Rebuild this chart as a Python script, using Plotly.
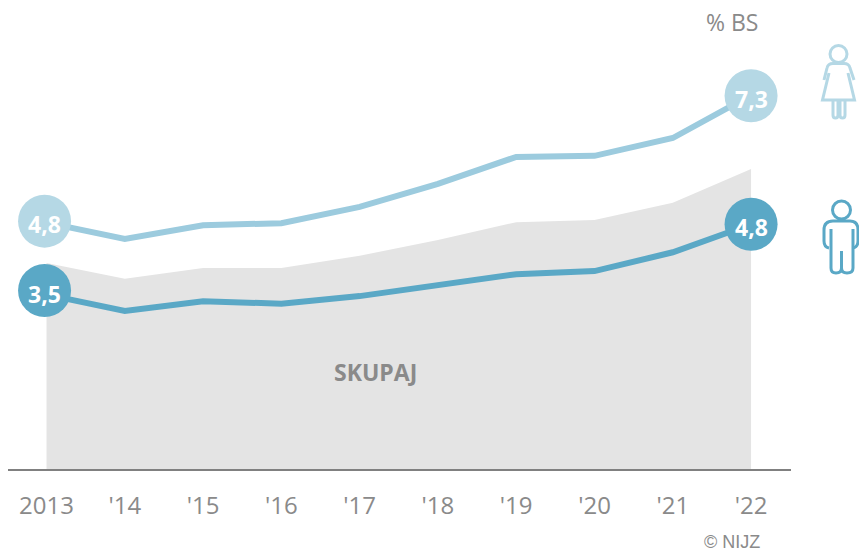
import plotly.graph_objects as go

years = [2013, 2014, 2015, 2016, 2017, 2018, 2019, 2020, 2021, 2022]
tick_labels = ["2013", "'14", "'15", "'16", "'17", "'18", "'19", "'20", "'21", "'22"]
women = [4.83, 4.51, 4.78, 4.82, 5.14, 5.59, 6.12, 6.14, 6.49, 7.33]
men = [3.42, 3.10, 3.29, 3.24, 3.39, 3.61, 3.82, 3.88, 4.25, 4.8]
total = [4.04, 3.73, 3.94, 3.94, 4.18, 4.49, 4.84, 4.88, 5.22, 5.88]
dot_years = [2012.975, 2022]
women_dots = [4.86, 7.32]
men_dots = [3.5, 4.8]
women_labels = ["4,8", "7,3"]
men_labels = ["3,5", "4,8"]

W, H = 859, 552
L, R, T, B = 8, 68, 0, 83
GREY = "#8a8a8a"
LIGHT = "#9ccbde"
LIGHT_DOT = "#b5d8e5"
DARK = "#5aa8c6"
FONT = "Open Sans"

def px(x):
    return (x - L) / (W - L - R)
def py(y):
    return 1 - (y - T) / (H - T - B)
def path(cmds):
    out = []
    for c in cmds:
        if isinstance(c, str):
            out.append(c)
        else:
            out.append(f"{px(c[0]):.5f},{py(c[1]):.5f}")
    return " ".join(out)

fig = go.Figure()
fig.add_trace(go.Scatter(x=years, y=total, mode="lines", line=dict(width=0), fill="tozeroy",
                         fillcolor="#e4e4e4", hoverinfo="skip", showlegend=False))
fig.add_trace(go.Scatter(x=years, y=women, mode="lines", line=dict(color=LIGHT, width=6), showlegend=False))
fig.add_trace(go.Scatter(x=years, y=men, mode="lines", line=dict(color=DARK, width=6), showlegend=False))
fig.add_trace(go.Scatter(x=dot_years, y=women_dots, mode="markers",
                         marker=dict(size=53, color=LIGHT_DOT), showlegend=False))
fig.add_trace(go.Scatter(x=dot_years, y=men_dots, mode="markers",
                         marker=dict(size=53, color=DARK), showlegend=False))

def icon_shapes(color, head, paths):
    hx, hy, r = head
    s = [dict(type="circle", xref="paper", yref="paper", x0=px(hx - r), x1=px(hx + r), y0=py(hy + r), y1=py(hy - r),
              line=dict(color=color, width=3), layer="above")]
    for p in paths:
        s.append(dict(type="path", xref="paper", yref="paper", path=path(p), line=dict(color=color, width=3), layer="above"))
    return s

woman = [
    ["M", (824, 80), "L", (827, 68), "Q", (828, 63.5), (833, 63.5), "L", (844, 63.5), "Q", (849, 63.5), (850, 68), "L", (854, 80)],
    ["M", (829, 73), "L", (822.5, 100), "L", (854.5, 100), "L", (848, 73)],
    ["M", (833, 100), "L", (833, 115), "Q", (833, 118), (835.5, 118), "Q", (838, 118), (838, 115), "L", (838, 100)],
    ["M", (840, 100), "L", (840, 115), "Q", (840, 118), (842.5, 118), "Q", (845, 118), (845, 115), "L", (845, 100)],
]
man = [
    ["M", (829, 248), "Q", (824, 247), (824, 241), "L", (824, 230), "Q", (824, 221), (833, 221), "L", (850, 221),
     "Q", (858, 221), (858, 230), "L", (858, 241), "Q", (858, 247), (853, 248)],
    ["M", (831, 229), "L", (831, 268), "Q", (831, 273), (836, 273), "Q", (841.5, 273), (841.5, 268), "L", (841.5, 251),
     "M", (841.5, 268), "Q", (841.5, 273), (847, 273), "Q", (853, 273), (853, 268), "L", (853, 229)],
]
shapes = icon_shapes(LIGHT_DOT, (838.5, 54, 8.5), woman) + icon_shapes(DARK, (841.5, 210, 9), man)

annotations = [
    dict(x=px(732), y=py(22), text="% BS", font=dict(family=FONT, size=23, color=GREY)),
    dict(x=px(375.5), y=py(372), text="<b>SKUPAJ</b>", font=dict(family=FONT, size=23, color=GREY)),
    dict(x=px(732), y=py(541.5), text="© NIJZ", font=dict(family="Liberation Sans", size=18, color=GREY)),
]
for a in annotations:
    a.update(xref="paper", yref="paper", showarrow=False, xanchor="center", yanchor="middle")
for xs, ys, labels in [(dot_years, women_dots, women_labels), (dot_years, men_dots, men_labels)]:
    for x, y, t in zip(xs, ys, labels):
        annotations.append(dict(x=x, y=y, xref="x", yref="y", text=f"<b>{t}</b>", showarrow=False, yshift=-3,
                                xanchor="center", yanchor="middle",
                                font=dict(family=FONT, size=23, color="white")))

fig.update_layout(
    width=W, height=H, autosize=False, margin=dict(l=L, r=R, t=T, b=B),
    plot_bgcolor="white", paper_bgcolor="white", showlegend=False,
    shapes=shapes, annotations=annotations,
    xaxis=dict(range=[2012.508, 2022.51], tickmode="array", tickvals=years, ticktext=tick_labels,
               showgrid=False, zeroline=False, showline=True, linecolor="#808080", linewidth=1.5,
               ticks="outside", ticklen=14, tickcolor="rgba(0,0,0,0)", tickfont=dict(family=FONT, size=24, color=GREY)),
    yaxis=dict(range=[0, 469 / 51], visible=False, fixedrange=True),
)
fig.write_html("out.html", config=dict(displayModeBar=False),
               post_script="document.body.style.margin='0';document.documentElement.style.overflow='hidden';")
